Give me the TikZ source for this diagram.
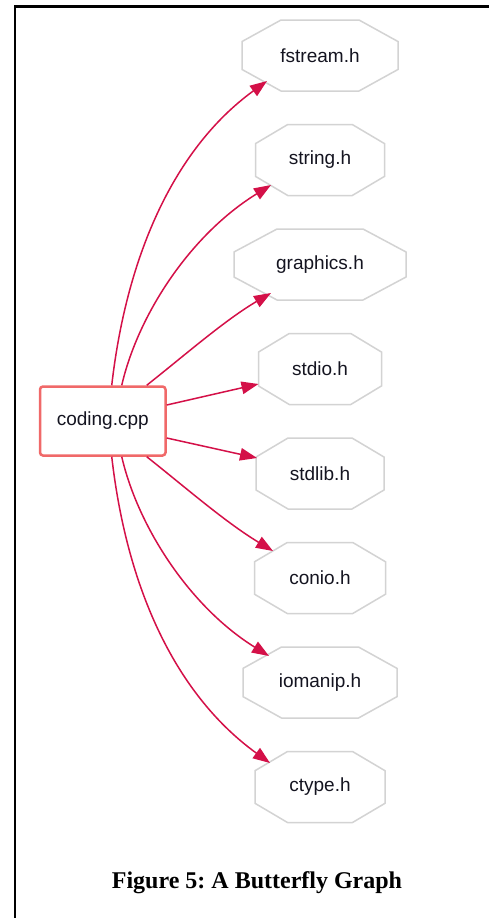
\documentclass[tikz,border=0pt]{standalone}
\usepackage{fontspec}
\setmainfont{Liberation Sans}
\newfontfamily\capfont{Liberation Serif}
\usetikzlibrary{arrows.meta}
\definecolor{octgray}{RGB}{211,211,211}
\definecolor{cppred}{RGB}{240,105,105}
\definecolor{arrred}{RGB}{212,16,72}
\definecolor{txt}{RGB}{20,20,32}
\tikzset{
  octtext/.style={inner sep=0pt, text=txt, font=\fontsize{19}{22}\selectfont},
  octline/.style={draw=octgray, line width=1.5pt, line join=miter},
  cppbox/.style={draw=cppred, line width=2.5pt, rounded corners=3pt, minimum width=125.5pt, minimum height=69pt, inner sep=0pt, text=txt, font=\fontsize{19}{22}\selectfont},
  arr/.style={draw=arrred, line width=1.5pt, -{Triangle[length=17pt,width=12.5pt]}},
  framel/.style={draw=black, line width=2.2pt},
  captext/.style={font=\capfont\bfseries\fontsize{24}{28}\selectfont\frenchspacing, anchor=base}
}
\newcommand\octo[5]{%
  \node[octtext] (#1) at (#2,#3) {#5};
  \draw[octline] ({#2-0.5*#4},{#3-35.5}) -- ({#2+0.5*#4},{#3-35.5})
    -- ({#2+#4},{#3-(28-0.18*#4)}) -- ({#2+#4},{#3+(28-0.18*#4)})
    -- ({#2+0.5*#4},{#3+35.5}) -- ({#2-0.5*#4},{#3+35.5})
    -- ({#2-#4},{#3+(28-0.18*#4)}) -- ({#2-#4},{#3-(28-0.18*#4)}) -- cycle;
}
\begin{document}
\begin{tikzpicture}[x=1pt,y=-1pt]
\useasboundingbox[fill=white] (0,0) rectangle (489,918);
\draw[framel] (15,918) -- (15,6.5) -- (489,6.5);

\node[cppbox] (cpp) at (102.75,421) {coding.cpp};

\octo{fs}{320}{55.5}{78}{fstream.h}
\octo{st}{320}{160}{64.5}{string.h}
\octo{gr}{320}{264.5}{86}{graphics.h}
\octo{sio}{320}{369}{61.5}{stdio.h}
\octo{slib}{320}{473.5}{64}{stdlib.h}
\octo{con}{320}{578}{65.5}{conio.h}
\octo{iom}{320}{682.5}{77}{iomanip.h}
\octo{ct}{320}{787}{65}{ctype.h}

\coordinate (fs-in) at (267,81);
\coordinate (st-in) at (271,185);
\coordinate (gr-in) at (271,293);
\coordinate (sio-in) at (258.5,384);
\coordinate (slib-in) at (257,458);
\coordinate (con-in) at (273,551);
\coordinate (iom-in) at (269,656);
\coordinate (ct-in) at (270,763);

\draw[arr] ([xshift=9pt]cpp.north) .. controls (126,260) and (172,150) .. (fs-in);
\draw[arr] ([xshift=19pt]cpp.north) .. controls (138,315) and (190,235) .. (st-in);
\draw[arr] ([xshift=44pt]cpp.north) .. controls (185,355) and (225,320) .. (gr-in);
\draw[arr] ([yshift=16pt]cpp.east) -- (sio-in);
\draw[arr] ([yshift=-17pt]cpp.east) -- (slib-in);
\draw[arr] ([xshift=44pt]cpp.south) .. controls (185,487) and (225,522) .. (con-in);
\draw[arr] ([xshift=19pt]cpp.south) .. controls (138,527) and (190,607) .. (iom-in);
\draw[arr] ([xshift=9pt]cpp.south) .. controls (126,582) and (172,692) .. (ct-in);

\node[captext] (cap) at (257,888) {Figure 5: A Butterfly Graph};
\end{tikzpicture}
\end{document}
